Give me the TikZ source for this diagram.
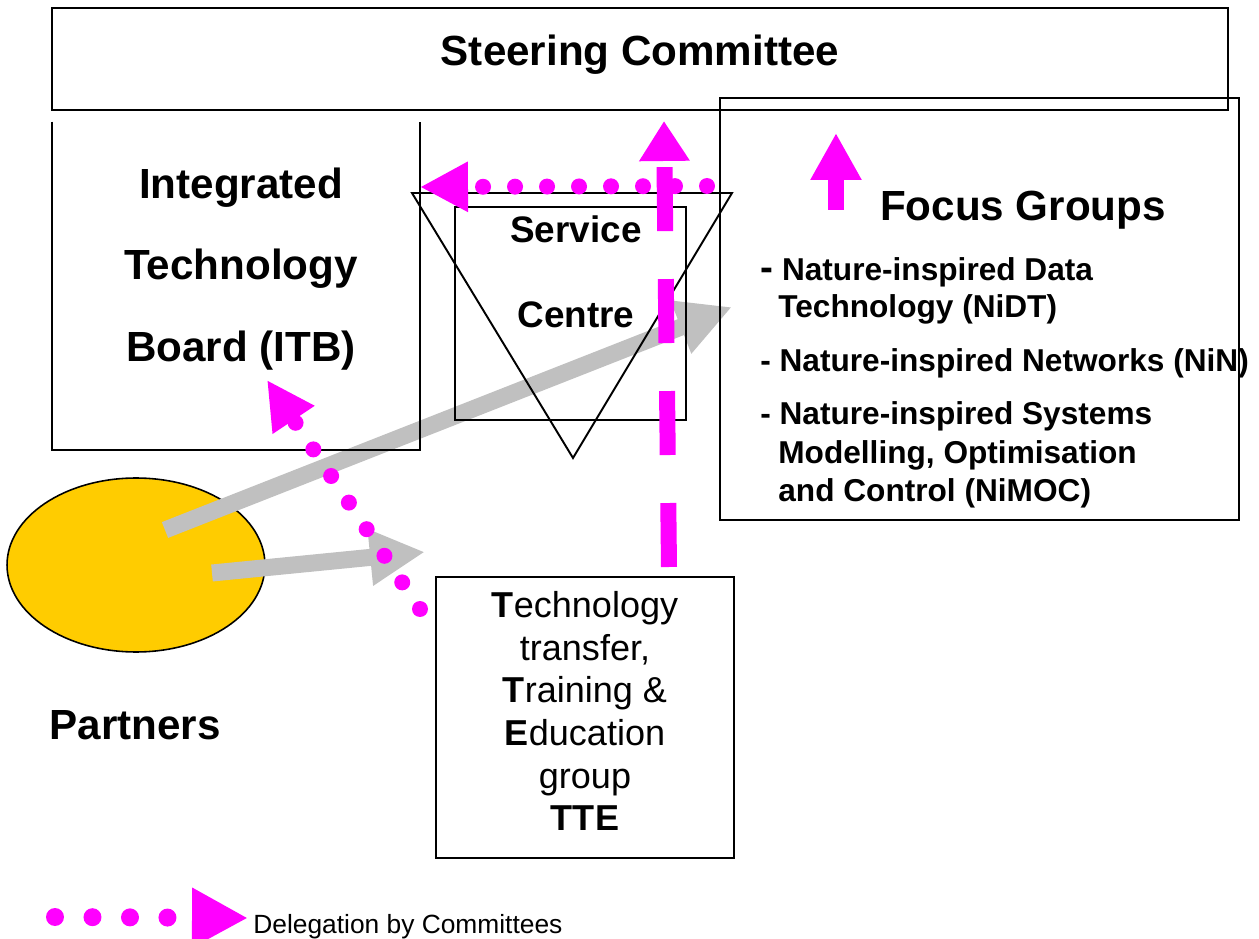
\documentclass[tikz,border=0pt]{standalone}
\usepackage{fontspec}
\setmainfont{Liberation Sans}
\usetikzlibrary{arrows.meta,shapes.geometric,fit}

\definecolor{committeemagenta}{HTML}{FF00FF}
\definecolor{partnergold}{HTML}{FFCC00}
\definecolor{flowgrey}{HTML}{C0C0C0}

\tikzset{
  frame/.style={draw, line width=1.1pt, inner sep=0pt},
  groupitem/.style={anchor=base west, inner sep=0pt, font=\fontsize{18}{18}\selectfont\bfseries},
  flow/.style={draw=flowgrey, line width=0.34cm, -{Triangle[length=1.1cm,width=1.06cm]}},
  delegate/.style={draw=committeemagenta, line width=0.32cm, line cap=round,
    dash pattern=on 0pt off 0.64cm, -{Triangle[length=0.96cm,width=0.94cm]}},
  report/.style={draw=committeemagenta, line width=0.32cm,
    dash pattern=on 1.28cm off 0.96cm, -{Triangle[length=0.8cm,width=0.96cm]}},
  upward/.style={draw=committeemagenta, line width=0.32cm, -{Triangle[length=0.94cm,width=0.96cm]}},
}

\begin{document}
\begin{tikzpicture}[x=0.02cm, y=-0.02cm]
  \useasboundingbox (0,0) rectangle (1259,939);
  \clip (0,0) rectangle (1259,939);

  % partners
  \node[ellipse, draw, line width=0.9pt, fill=partnergold,
        minimum width=5.16cm, minimum height=3.48cm] (partners) at (136,565) {};

  % grey flows out of the partners
  \coordinate (partners out) at (165,530);
  \coordinate (focus in) at (732,307);
  \coordinate (partners out2) at (212,573);
  \coordinate (tte in) at (425,552);
  \draw[flow] (partners out) -- (focus in);
  \draw[flow] (partners out2) -- (tte in);

  % boxes
  \node[frame, fit={(52,8) (1228,110)}] (steering) {};
  \node[fit={(52,122) (420,450)}, inner sep=0pt] (itb frame) {};
  \draw[line width=1.1pt] (itb frame.north west) |- (itb frame.south east) -- (itb frame.north east);
  \draw[line width=1.1pt] (412,193) -- (732,193) -- (573,458) -- cycle;
  \node[frame, fit={(455,207) (686,420)}] (service) {};
  \node[frame, fit={(720,98) (1239,520)}] (focus) {};
  \node[frame, fit={(436,577) (734,858)}] (tte) {};

  % delegation and reporting lines
  \coordinate (focus dots) at (707,186);
  \coordinate (itb in) at (420,187);
  \coordinate (tte dots) at (420,609);
  \coordinate (itb in2) at (267,380);
  \coordinate (tte up) at (669,567);
  \coordinate (steering in) at (664,121);
  \coordinate (focus up) at (836,210);
  \coordinate (steering in2) at (836,133);
  \draw[delegate] (focus dots) -- (itb in);
  \draw[delegate] (tte dots) -- (itb in2);
  \draw[report] (tte up) -- (steering in);
  \draw[upward] (focus up) -- (steering in2);

  % texts
  \node[font=\fontsize{24}{24}\selectfont\bfseries] (steering title) at (640,55) {Steering Committee};
  \node[align=center, font=\fontsize{24}{46.5}\selectfont\bfseries] (itb) at (241,269)
    {Integrated\\Technology\\Board (ITB)};
  \node[align=center, font=\fontsize{21}{48.2}\selectfont\bfseries] (service title) at (576,272)
    {Service\\Centre};
  \node[font=\fontsize{24}{24}\selectfont\bfseries] (focus title) at (1023,210) {Focus Groups};
  \node[groupitem] (nidt) at (760,281) {{\fontsize{22}{22}\selectfont-} Nature-inspired Data};
  \node[groupitem] (nidt2) at (778,318) {Technology (NiDT)};
  \node[groupitem] (nin) at (760,372) {- Nature-inspired Networks (NiN)};
  \node[groupitem] (nimoc) at (760,425) {- Nature-inspired Systems};
  \node[groupitem] (nimoc2) at (778,463) {Modelling, Optimisation};
  \node[groupitem] (nimoc3) at (778,501) {and Control (NiMOC)};
  \node[font=\fontsize{24}{24}\selectfont\bfseries] (partners label) at (135,725) {Partners};
  \node[align=center, font=\fontsize{20.5}{24.3}\selectfont] (tte text) at (585,711)
    {\textbf{T}echnology\\transfer,\\\textbf{T}raining \&\\\textbf{E}ducation\\group\\\textbf{TTE}};

  % key
  \coordinate (key start) at (55,917);
  \coordinate (key end) at (248,918);
  \draw[delegate, line width=0.36cm, dash pattern=on 0pt off 0.75cm,
        -{Triangle[length=1.12cm,width=1.12cm]}] (key start) -- (key end);
  \node[anchor=base west, inner sep=0pt, font=\fontsize{15}{15}\selectfont] (key) at (253,933)
    {Delegation by Committees};
\end{tikzpicture}
\end{document}
